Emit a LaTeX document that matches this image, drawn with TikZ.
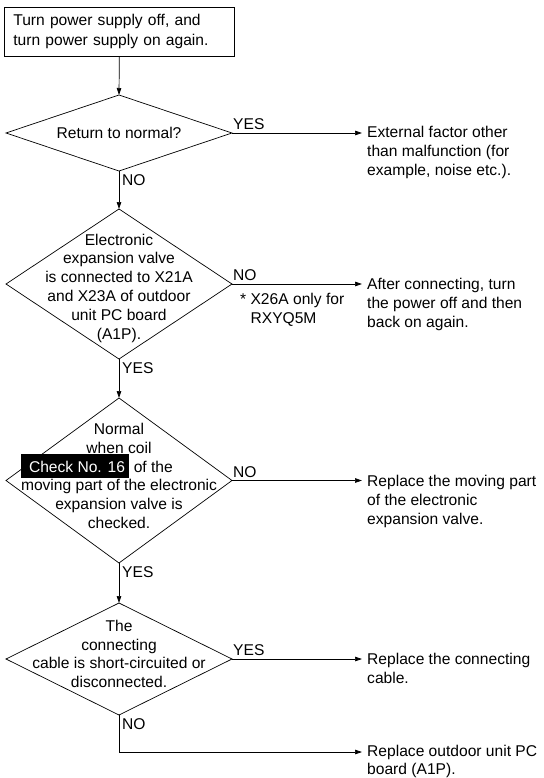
\documentclass[tikz,border=0pt]{standalone}
\usepackage{fontspec}
\setmainfont{Liberation Sans}
\usetikzlibrary{shapes.geometric,arrows.meta}
\newcommand\hlbox[1]{\smash{\rlap{\rule[-5.6pt]{108pt}{24pt}}}\hspace*{8pt}\textcolor{white}{#1}\hspace*{4.5pt}}
\begin{document}
\begin{tikzpicture}[x=1pt,y=-1pt,
 every node/.style={font=\fontsize{15.6}{18.8}\selectfont},
 dia/.style={diamond, draw, inner sep=0pt, outer sep=0pt, line width=0.7pt},
 txt/.style={align=center, inner sep=0pt},
 rtext/.style={align=left, anchor=north west, inner xsep=5pt, inner ysep=0pt},
 lab/.style={inner sep=0pt},
 arr/.style={-{Triangle[length=7pt,width=4.5pt]}, line width=0.7pt}]
\useasboundingbox (0,0) rectangle (543,778);

\node[draw, line width=0.7pt, anchor=north west, minimum width=230pt, minimum height=49pt,
  text width=212pt, inner xsep=9pt, inner ysep=0pt, align=left,
  font=\fontsize{15.6}{20}\selectfont] (start) at (4,7)
  {Turn power supply off, and\\turn power supply on again.};

\node[dia, minimum width=226pt, minimum height=76pt] (d1) at (119,133) {};
\node[txt] (t1) at (d1.center) {Return to normal?};

\node[dia, minimum width=226pt, minimum height=150pt] (d2) at (119,284) {};
\node[txt] (t2) at (119,288) {Electronic\\expansion valve\\is connected to X21A\\and X23A of outdoor\\unit PC board\\(A1P).};

\node[dia, minimum width=226pt, minimum height=165pt] (d3) at (119,480.5) {};
\node[txt] (t3) at (119,476) {Normal\\when coil\\\makebox[196pt][l]{\hlbox{Check No. 16} of the}\\moving part of the electronic\\expansion valve is\\checked.};

\node[dia, minimum width=226pt, minimum height=112pt] (d4) at (119,659) {};
\node[txt] (t4) at (119,654) {The\\connecting\\cable is short-circuited or\\disconnected.};

\node[rtext] (r1) at (362,126.4) {External factor other\\than malfunction (for\\example, noise etc.).};
\node[rtext] (r2) at (362,278.4) {After connecting, turn\\the power off and then\\back on again.};
\node[rtext] (r3) at (362,474.9) {Replace the moving part\\of the electronic\\expansion valve.};
\node[rtext] (r4) at (362,653.4) {Replace the connecting\\cable.};
\node[rtext, font=\fontsize{15.6}{18}\selectfont] (r5) at (362,745) {Replace outdoor unit PC\\board (A1P).};
\coordinate (e5) at (362,752);

\node[lab, align=left, anchor=north west] (note) at (240,293) {* X26A only for\\\hphantom{* }RXYQ5M};

\draw[arr] (start.south) -- (d1.north);
\draw[arr] (d1.east) -- (d1.east -| r1.west);
\draw[arr] (d1.south) -- (d2.north);
\draw[arr] (d2.east) -- (d2.east -| r2.west);
\draw[arr] (d2.south) -- (d3.north);
\draw[arr] (d3.east) -- (d3.east -| r3.west);
\draw[arr] (d3.south) -- (d4.north);
\draw[arr] (d4.east) -- (d4.east -| r4.west);
\draw[arr] (d4.south) |- (e5);

\node[lab, anchor=south west, xshift=1pt, yshift=3pt] (y1) at (d1.east) {YES};
\node[lab, anchor=north west, xshift=3pt, yshift=-3pt] (n1) at (d1.south) {NO};
\node[lab, anchor=south west, xshift=1pt, yshift=3pt] (n2) at (d2.east) {NO};
\node[lab, anchor=north west, xshift=3pt, yshift=-3pt] (y2) at (d2.south) {YES};
\node[lab, anchor=south west, xshift=1pt, yshift=3pt] (n3) at (d3.east) {NO};
\node[lab, anchor=north west, xshift=3pt, yshift=-3pt] (y3) at (d3.south) {YES};
\node[lab, anchor=south west, xshift=1pt, yshift=3pt] (y4) at (d4.east) {YES};
\node[lab, anchor=north west, xshift=3pt, yshift=-3pt] (n4) at (d4.south) {NO};
\end{tikzpicture}
\end{document}
